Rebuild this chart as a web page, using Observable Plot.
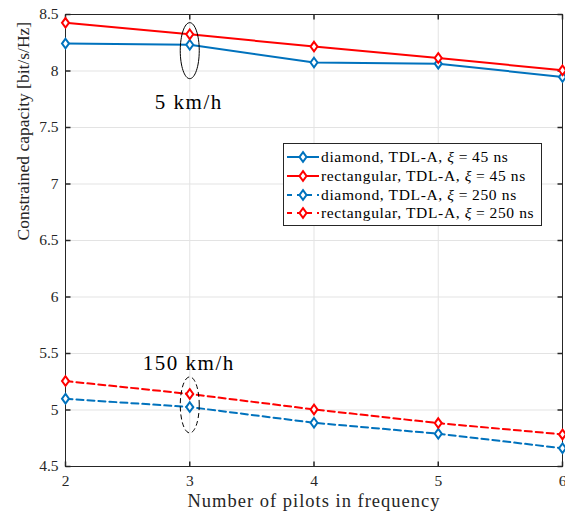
<!DOCTYPE html>
<html>
<head>
<meta charset="utf-8">
<script src="https://cdn.jsdelivr.net/npm/d3@7"></script>
<script src="https://cdn.jsdelivr.net/npm/@observablehq/plot@0.6"></script>
<style>
  body { margin: 0; background: white; }
  #wrap { position: relative; width: 565px; height: 520px; font-family: "Liberation Serif", serif; }
  #legend { position: absolute; left: 283px; top: 143px; width: 257px; height: 81px; border: 1px solid #262626; background: white; }
  .row { position: absolute; left: 0; height: 18px; display: flex; align-items: center; font-size: 15.5px; letter-spacing: 0.65px; color: #000; white-space: nowrap; }
  .row svg { margin-right: 1px; }
  .eq { padding: 0 4px; }
</style>
</head>
<body>
<div id="wrap"></div>
<script>
// ---- data ----
const pilots = [2, 3, 4, 5, 6];
const diamond45 = [8.243, 8.232, 8.075, 8.065, 7.947];
const rect45 = [8.426, 8.325, 8.216, 8.115, 8.006];
const diamond250 = [5.100, 5.026, 4.887, 4.790, 4.662];
const rect250 = [5.256, 5.142, 5.005, 4.884, 4.784];
const seriesPrefix = ["diamond, TDL-A, ", "rectangular, TDL-A, ", "diamond, TDL-A, ", "rectangular, TDL-A, "];
const seriesXi = ["45 ns", "45 ns", "250 ns", "250 ns"];
const seriesColors = ["#0072BD", "#FF0000", "#0072BD", "#FF0000"];
const seriesDash = [null, null, "7,4", "7,4"];
const xTicks = [2, 3, 4, 5, 6];
const yTicks = [4.5, 5, 5.5, 6, 6.5, 7, 7.5, 8, 8.5];
const annotX = [3, 3];
const annotY = [8.18, 5.045];
const annotDash = [null, "5,3"];
const annotLabelY = [7.72, 5.41];
const annotLabels = ["5 km/h", "150 km/h"];
const xLabel = "Number of pilots in frequency";
const yLabel = "Constrained capacity [bit/s/Hz]";

const allSeries = [diamond45, rect45, diamond250, rect250];
const table = allSeries.flatMap((vals, s) => pilots.map((p, i) => ({x: p, y: vals[i], s})));

// ---- symbols ----
const diamondSym = { draw(ctx) { ctx.moveTo(0, -4.8); ctx.lineTo(3.5, 0); ctx.lineTo(0, 4.8); ctx.lineTo(-3.5, 0); ctx.closePath(); } };
function ellipseSym(rx, ry) {
  const k = 0.5523;
  return { draw(ctx) {
    ctx.moveTo(rx, 0);
    ctx.bezierCurveTo(rx, k * ry, k * rx, ry, 0, ry);
    ctx.bezierCurveTo(-k * rx, ry, -rx, k * ry, -rx, 0);
    ctx.bezierCurveTo(-rx, -k * ry, -k * rx, -ry, 0, -ry);
    ctx.bezierCurveTo(k * rx, -ry, rx, -k * ry, rx, 0);
    ctx.closePath();
  } };
}
const tickUp = { draw(c) { c.moveTo(0, 0); c.lineTo(0, -5); } };
const tickDown = { draw(c) { c.moveTo(0, 0); c.lineTo(0, 5); } };
const tickRight = { draw(c) { c.moveTo(0, 0); c.lineTo(5, 0); } };
const tickLeft = { draw(c) { c.moveTo(0, 0); c.lineTo(-5, 0); } };

const axisColor = "#262626";
const marks = [
  Plot.gridX(xTicks, {stroke: "#e3e3e3", strokeOpacity: 1}),
  Plot.gridY(yTicks, {stroke: "#e3e3e3", strokeOpacity: 1}),
  Plot.frame({stroke: axisColor, strokeWidth: 1}),
  Plot.dot(xTicks, {x: d => d, frameAnchor: "bottom", symbol: tickUp, stroke: axisColor, r: 3}),
  Plot.dot(xTicks, {x: d => d, frameAnchor: "top", symbol: tickDown, stroke: axisColor, r: 3}),
  Plot.dot(yTicks, {y: d => d, frameAnchor: "left", symbol: tickRight, stroke: axisColor, r: 3}),
  Plot.dot(yTicks, {y: d => d, frameAnchor: "right", symbol: tickLeft, stroke: axisColor, r: 3}),
  Plot.axisX(xTicks, {tickSize: 0, tickPadding: 8, label: null, fontSize: 15.5, color: axisColor, tickFormat: d => String(d)}),
  Plot.axisY(yTicks, {tickSize: 0, tickPadding: 7, label: null, fontSize: 15.5, color: axisColor, tickFormat: d => String(d)}),
  Plot.text([xLabel], {text: d => d, frameAnchor: "bottom", dy: 35, fontSize: 18.5, fill: axisColor, lineAnchor: "middle"}),
  Plot.text([yLabel], {text: d => d, frameAnchor: "left", dx: -42, rotate: -90, fontSize: 17.5, fill: axisColor, lineAnchor: "middle"}),
];
allSeries.forEach((vals, s) => {
  const d = table.filter(r => r.s === s);
  marks.push(Plot.line(d, {x: "x", y: "y", stroke: seriesColors[s], strokeWidth: 2, strokeDasharray: seriesDash[s]}));
});
allSeries.forEach((vals, s) => {
  const d = table.filter(r => r.s === s);
  marks.push(Plot.dot(d, {x: "x", y: "y", symbol: diamondSym, stroke: seriesColors[s], fill: "white", strokeWidth: 2, r: 4}));
});
annotX.forEach((ax, i) => {
  marks.push(Plot.dot([0], {x: () => ax, y: () => annotY[i], symbol: ellipseSym(9.5, 28), stroke: "#000", fill: "none", strokeWidth: 1, strokeDasharray: annotDash[i], r: 10}));
  marks.push(Plot.text([annotLabels[i]], {x: () => ax, y: () => annotLabelY[i], text: d => d, fontSize: 21, fill: "#000", lineAnchor: "middle", dx: -1}));
});

const chart = Plot.plot({
  width: 565, height: 520,
  marginLeft: 65, marginRight: 3, marginTop: 14, marginBottom: 54,
  x: {domain: [2, 6]},
  y: {domain: [4.5, 8.5]},
  style: {fontFamily: "Liberation Serif, serif", background: "white", overflow: "visible"},
  marks
});
// widen the serif glyph spacing to approach Computer Modern metrics
d3.select(chart).selectAll("text").each(function () {
  const t = this.textContent;
  if (t === xLabel) this.setAttribute("letter-spacing", "1.0px");
  if (annotLabels.includes(t)) this.setAttribute("letter-spacing", "1.5px");
});
const wrap = document.getElementById("wrap");
wrap.appendChild(chart);

// ---- legend (HTML overlay) ----
const legend = document.createElement("div");
legend.id = "legend";
seriesPrefix.forEach((prefix, i) => {
  const row = document.createElement("div");
  row.className = "row";
  row.style.top = (4 + i * 18.8) + "px";
  const dash = seriesDash[i] ? 'stroke-dasharray="5,5"' : "";
  row.innerHTML = `<svg width="36" height="14"><line x1="3" x2="35" y1="7" y2="7" stroke="${seriesColors[i]}" stroke-width="2" ${dash}/>` +
    `<path d="M19,2.2 L22.5,7 L19,11.8 L15.5,7 Z" fill="white" stroke="${seriesColors[i]}" stroke-width="2"/></svg>` +
    `<span>${prefix}<i>ξ</i><span class="eq">=</span>${seriesXi[i]}</span>`;
  legend.appendChild(row);
});
wrap.appendChild(legend);
</script>
</body>
</html>
